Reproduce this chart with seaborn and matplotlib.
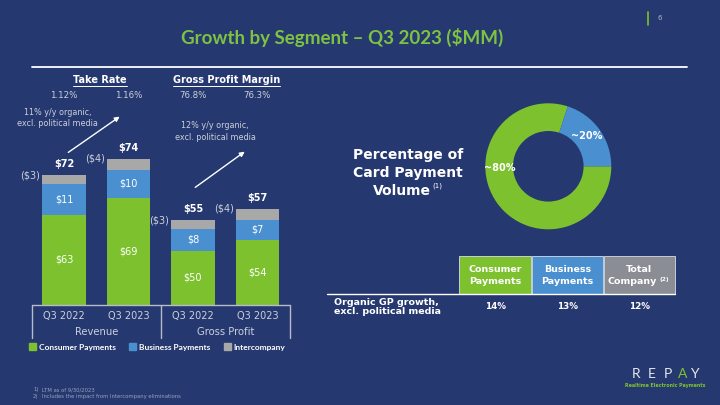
import pandas as pd
import matplotlib.pyplot as plt
import matplotlib.transforms as mtransforms
import seaborn as sns
from matplotlib.patches import Patch, Rectangle

# --------------------------------------
# DATA
# --------------------------------------

groups = ["Revenue", "Revenue", "Gross Profit", "Gross Profit"]
periods = ["Q3 2022", "Q3 2023", "Q3 2022", "Q3 2023"]
consumer = [63, 69, 50, 54]
business = [11, 10, 8, 7]
intercompany = [-3, -4, -3, -4]
totals = [72, 74, 55, 57]
header_values = ["1.12%", "1.16%", "76.8%", "76.3%"]
header_titles = ["Take Rate", "Gross Profit Margin"]
growth_notes = ["11% y/y organic,\nexcl. political media",
                "12% y/y organic,\nexcl. political media"]

card_segments = ["Consumer", "Business"]
card_share = [80, 20]

table_cols = ["Consumer\nPayments", "Business\nPayments", "Total\nCompany"]
table_growth = [14, 13, 12]

# --------------------------------------
# STYLE
# --------------------------------------

NAVY = "#25386F"
GREEN = "#7DC22E"
BLUE = "#4A8FD0"
GRAY = "#A8A8A8"
TGRAY = "#8A8D93"
LIGHT = "#CDD1DC"

sns.set_theme(style="white")
plt.rcParams["font.family"] = ["DejaVu Sans"]

fig = plt.figure(figsize=(7.2, 4.05), dpi=100, facecolor=NAVY)

# --------------------------------------
# STACKED BARS
# --------------------------------------

df = pd.DataFrame({
    "key": [g + " " + p for g, p in zip(groups, periods)],
    "consumer": consumer,
    "business": business,
    "intercompany": intercompany,
    "total": totals,
})
df["mid"] = df["consumer"] + df["business"]
df["top"] = df["mid"] + df["intercompany"].abs()

ax = fig.add_axes([31.7 / 720, 1 - 305 / 405, 258 / 720, 165 / 405])
ax.set_facecolor("none")

bar_kw = dict(width=0.68, saturation=1, linewidth=0, edgecolor="none", ax=ax)
sns.barplot(data=df, x="key", y="top", color=GRAY, **bar_kw)
sns.barplot(data=df, x="key", y="mid", color=BLUE, **bar_kw)
sns.barplot(data=df, x="key", y="consumer", color=GREEN, **bar_kw)

ymin = 30.6
ax.set_ylim(ymin, 89.7)
ax.set_xlim(-0.5, 3.5)
ax.set_xlabel("")
ax.set_ylabel("")
ax.set_yticks([])
for s in ax.spines.values():
    s.set_visible(False)
ax.set_xticks(range(len(periods)))
ax.set_xticklabels(periods)
ax.tick_params(axis="x", length=0, pad=4, labelsize=7, labelcolor=LIGHT)

for i, r in df.iterrows():
    ax.text(i, (ymin + r["consumer"]) / 2, f"${r['consumer']}", ha="center", va="center",
            fontsize=7, color="white")
    ax.text(i, r["consumer"] + r["business"] / 2, f"${r['business']}", ha="center",
            va="center", fontsize=7, color="white")
    ax.text(i, r["top"] + 4, f"${r['total']}", ha="center", va="center",
            fontsize=7, color="white", fontweight="bold")
    ax.text(i - 0.37, r["top"], f"(${abs(r['intercompany'])})", ha="right", va="center",
            fontsize=7, color=LIGHT)

trans = ax.get_xaxis_transform()
ax.plot([-0.5, 3.5], [0, 0], transform=trans, clip_on=False, color="#B8BCC8", lw=1)
for x in [-0.5, 1.5, 3.5]:
    ax.plot([x, x], [0, -0.2], transform=trans, clip_on=False, color="#B8BCC8", lw=1)
for x, g in [(0.5, groups[0]), (2.5, groups[2])]:
    ax.text(x, -27 / 165, g, transform=trans, ha="center", va="center",
            fontsize=7.2, color=LIGHT)

fig.legend(
    handles=[Patch(color=GREEN, label="Consumer Payments"),
             Patch(color=BLUE, label="Business Payments"),
             Patch(color=GRAY, label="Intercompany")],
    loc="center", bbox_to_anchor=(157 / 720, 1 - 347 / 405), ncol=3, frameon=False,
    prop=dict(family="Lato", weight="bold", size=6), labelcolor="white",
    handlelength=0.9, handleheight=0.9, handletextpad=0.3, columnspacing=1.6,
)

# --------------------------------------
# DONUT
# --------------------------------------

axp = fig.add_axes([(548.3 - 63) / 720, 1 - (166.3 + 63) / 405, 126 / 720, 126 / 405])
axp.pie(card_share, colors=[GREEN, BLUE], startangle=0, counterclock=False,
        radius=1, wedgeprops=dict(width=0.44, edgecolor="none", linewidth=0))
axp.set_xlim(-1, 1)
axp.set_ylim(-1, 1)
axp.text(-0.77, -0.03, f"~{card_share[0]}%", ha="center", va="center",
         fontsize=7, color="white", fontweight="bold")
axp.text(0.61, 0.48, f"~{card_share[1]}%", ha="center", va="center",
         fontsize=7, color="white", fontweight="bold")

# --------------------------------------
# OVERLAY (titles, notes, table)
# --------------------------------------

ov = fig.add_axes([0, 0, 1, 1])
ov.set_xlim(0, 720)
ov.set_ylim(405, 0)
ov.axis("off")
ov.patch.set_alpha(0)

ov.text(342, 37, "Growth by Segment \u2013 Q3 2023 ($MM)", ha="center", va="center",
        fontsize=13.5, color="#7DC242", fontweight="bold", family="Lato")
ov.plot([647.7, 647.7], [12, 25], color=GREEN, lw=1.2)
ov.text(660, 18, "6", ha="center", va="center", fontsize=5, color="#B0B6C8")

ov.plot([32, 687], [67, 67], color="white", lw=1.3)

fig.canvas.draw()
renderer = fig.canvas.get_renderer()
inv = ov.transData.inverted()
for x, t in [(100, header_titles[0]), (226.7, header_titles[1])]:
    txt = ov.text(x, 80, t, ha="center", va="center", fontsize=7,
                  color="white", fontweight="bold")
    bb = txt.get_window_extent(renderer)
    (x0, _), (x1, _) = inv.transform([(bb.x0, bb.y0), (bb.x1, bb.y0)])
    ov.plot([x0, x1], [85.5, 85.5], color="white", lw=0.7)

hdr_trans = mtransforms.blended_transform_factory(ax.transData, ov.transData)
for i, v in enumerate(header_values):
    ov.text(i, 96, v, transform=hdr_trans, ha="center", va="center",
            fontsize=6.2, color=LIGHT)

ov.text(57.5, 118, growth_notes[0], ha="center", va="center", fontsize=5.8,
        color=LIGHT, linespacing=1.3)
ov.text(215, 131.5, growth_notes[1], ha="center", va="center", fontsize=5.8,
        color=LIGHT, linespacing=1.3)
arrow = dict(arrowstyle="-|>", color="white", lw=1, mutation_scale=7)
ov.annotate("", xy=(122, 115), xytext=(66, 154), arrowprops=arrow)
ov.annotate("", xy=(247, 150), xytext=(193, 189), arrowprops=arrow)

for y, t in [(155, "Percentage of"), (172.7, "Card Payment")]:
    ov.text(407.7, y, t, ha="center", va="center", fontsize=10, color="white",
            fontweight="bold")
ov.text(402, 190.7, "Volume", ha="center", va="center", fontsize=10, color="white",
        fontweight="bold")
ov.text(432, 186, "(1)", ha="left", va="center", fontsize=5, color="white")

# table
col_x = [459.3, 531.5, 603.5]
col_w = 71.8
col_colors = [GREEN, BLUE, TGRAY]
for x, c, name, g in zip(col_x, col_colors, table_cols, table_growth):
    ov.add_patch(Rectangle((x, 256), col_w, 38, facecolor=c, edgecolor="#DADDE5", lw=0.6))
    cx = x + col_w / 2
    top, bottom = name.split("\n")
    ov.text(cx, 269.3, top, ha="center", va="center", fontsize=6.8, color="white",
            fontweight="bold")
    if top == "Total":
        ov.text(656.7, 281.7, bottom, ha="right", va="center", fontsize=6.8,
                color="white", fontweight="bold")
        ov.text(660, 279.5, "(2)", ha="left", va="center", fontsize=4.2,
                color="white", fontweight="bold")
    else:
        ov.text(cx, 281.7, bottom, ha="center", va="center", fontsize=6.8,
                color="white", fontweight="bold")
    ov.text(cx, 306.7, f"{g}%", ha="center", va="center", fontsize=6.3,
            color="white", fontweight="bold")
ov.plot([326.7, 675], [294, 294], color="white", lw=1)
ov.text(334, 307, "Organic GP growth,\nexcl. political media", ha="left", va="center",
        fontsize=6.8, color="white", fontweight="bold", linespacing=1.0)

# footnotes
ov.text(33, 390, "1)", fontsize=3.8, color="#9AA3BD", va="center")
ov.text(41.7, 390, "LTM as of 9/30/2023", fontsize=3.8, color="#9AA3BD", va="center")
ov.text(33, 396.7, "2)", fontsize=3.8, color="#9AA3BD", va="center")
ov.text(41.7, 396.7, "Includes the impact from Intercompany eliminations", fontsize=3.8,
        color="#9AA3BD", va="center")

# logo
for x, ch in zip([635.8, 651.7, 667.5, 682.5, 694], "REPAY"):
    ov.text(x, 374, ch, ha="center", va="center", fontsize=10, family="Lato",
            color=GREEN if ch == "A" else "#E4E7EE")
ov.text(665.5, 385.7, "Realtime Electronic Payments", ha="center", va="center",
        fontsize=3.4, color=GREEN, fontweight="bold")

fig.savefig("out.png", dpi=100, facecolor=NAVY)
